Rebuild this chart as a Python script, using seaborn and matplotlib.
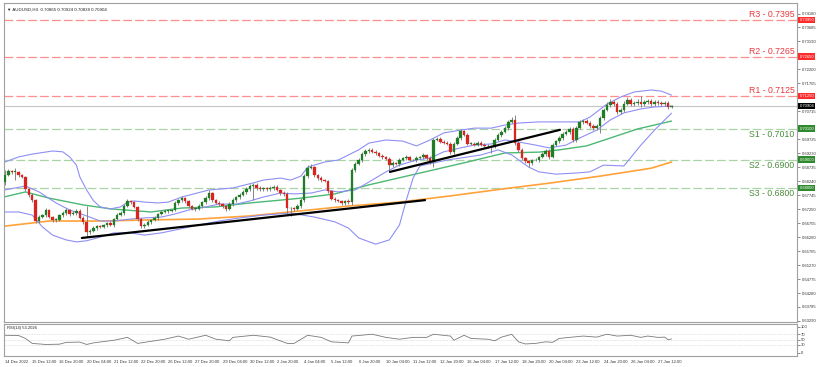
"""AUDUSD H4 chart with Bollinger bands, moving averages and S/R levels."""

import matplotlib
matplotlib.use("Agg")
import matplotlib.pyplot as plt
import numpy as np
import seaborn as sns

# --- candles (H4 closes, first open, wick lengths in pips) -------------------
first_open = 0.6821
closes = [
    0.6846, 0.6860, 0.6857, 0.6857, 0.6846, 0.6839, 0.6796, 0.6775, 0.6757, 0.6683,
    0.6697, 0.6704, 0.6722, 0.6697, 0.6687, 0.6687, 0.6704, 0.6711, 0.6722, 0.6708,
    0.6711, 0.6719, 0.6694, 0.6680, 0.6644, 0.6648, 0.6658, 0.6665, 0.6662, 0.6669,
    0.6676, 0.6669, 0.6690, 0.6704, 0.6711, 0.6736, 0.6754, 0.6750, 0.6733, 0.6690,
    0.6665, 0.6669, 0.6680, 0.6687, 0.6694, 0.6708, 0.6715, 0.6719, 0.6719, 0.6722,
    0.6747, 0.6757, 0.6764, 0.6754, 0.6736, 0.6726, 0.6726, 0.6736, 0.6750, 0.6764,
    0.6782, 0.6757, 0.6747, 0.6743, 0.6736, 0.6726, 0.6743, 0.6757, 0.6768, 0.6775,
    0.6786, 0.6796, 0.6807, 0.6811, 0.6800, 0.6796, 0.6800, 0.6796, 0.6800, 0.6804,
    0.6793, 0.6782, 0.6779, 0.6729, 0.6729, 0.6726, 0.6736, 0.6757, 0.6843, 0.6871,
    0.6874, 0.6846, 0.6835, 0.6828, 0.6825, 0.6789, 0.6761, 0.6757, 0.6754, 0.6747,
    0.6754, 0.6750, 0.6864, 0.6885, 0.6899, 0.6920, 0.6931, 0.6935, 0.6928, 0.6924,
    0.6913, 0.6910, 0.6903, 0.6881, 0.6888, 0.6885, 0.6899, 0.6906, 0.6910, 0.6899,
    0.6899, 0.6906, 0.6910, 0.6917, 0.6906, 0.6892, 0.6970, 0.6974, 0.6964, 0.6960,
    0.6957, 0.6928, 0.6957, 0.6977, 0.7002, 0.6988, 0.6957, 0.6957, 0.6953, 0.6960,
    0.6953, 0.6949, 0.6949, 0.6946, 0.6970, 0.6988, 0.6998, 0.7013, 0.7034, 0.7041,
    0.6960, 0.6935, 0.6906, 0.6895, 0.6888, 0.6899, 0.6899, 0.6910, 0.6920, 0.6931,
    0.6910, 0.6953, 0.6966, 0.6977, 0.6991, 0.6998, 0.7009, 0.6970, 0.7013, 0.7034,
    0.7037, 0.7031, 0.7020, 0.7013, 0.7020, 0.7048, 0.7076, 0.7094, 0.7105, 0.7098,
    0.7069, 0.7076, 0.7098, 0.7112, 0.7098, 0.7101, 0.7105, 0.7098, 0.7105, 0.7108,
    0.7098, 0.7105, 0.7101, 0.7098, 0.7101, 0.70865, 0.70904,
]
upper_wick = [
    18, 6, 5, 14, 4, 5, 5, 4, 6, 5,
    6, 5, 7, 4, 5, 6, 5, 6, 7, 5,
    6, 8, 5, 5, 55, 5, 6, 5, 4, 5,
    5, 6, 5, 6, 7, 6, 8, 5, 5, 4,
    5, 6, 5, 4, 6, 5, 6, 5, 6, 5,
    7, 5, 8, 5, 4, 5, 5, 6, 5, 7,
    10, 5, 5, 6, 4, 5, 6, 6, 5, 6,
    7, 6, 8, 5, 5, 6, 5, 5, 6, 5,
    5, 5, 6, 6, 5, 5, 6, 8, 8, 10,
    10, 5, 5, 6, 5, 5, 5, 6, 5, 5,
    5, 6, 5, 6, 7, 6, 8, 6, 5, 6,
    5, 6, 5, 5, 6, 5, 6, 5, 6, 5,
    5, 6, 5, 6, 5, 6, 6, 7, 5, 5,
    6, 5, 6, 8, 7, 5, 5, 6, 5, 6,
    5, 5, 6, 5, 6, 7, 6, 8, 8, 10,
    18, 5, 5, 4, 5, 5, 6, 5, 6, 6,
    6, 6, 5, 6, 6, 7, 6, 6, 7, 7,
    6, 6, 5, 5, 6, 8, 8, 10, 10, 8,
    8, 6, 10, 10, 8, 8, 9, 20, 8, 8,
    8, 7, 8, 6, 7, 6, 2,
]
lower_wick = [
    10, 5, 6, 28, 6, 5, 5, 6, 5, 8,
    6, 5, 6, 5, 7, 6, 5, 6, 5, 6,
    5, 6, 5, 6, 18, 6, 5, 6, 5, 5,
    6, 5, 6, 5, 5, 6, 5, 6, 5, 7,
    8, 6, 5, 6, 5, 6, 5, 5, 6, 5,
    5, 6, 5, 7, 6, 5, 6, 5, 6, 5,
    5, 6, 5, 6, 7, 6, 5, 6, 5, 6,
    5, 6, 5, 50, 6, 5, 6, 5, 6, 6,
    5, 6, 6, 25, 30, 6, 5, 6, 8, 6,
    5, 6, 5, 6, 5, 6, 5, 6, 5, 6,
    6, 8, 10, 6, 5, 6, 5, 6, 5, 6,
    5, 6, 5, 25, 6, 5, 6, 5, 6, 5,
    5, 6, 5, 6, 6, 8, 18, 5, 6, 5,
    5, 8, 6, 5, 6, 5, 6, 5, 6, 5,
    6, 5, 6, 22, 6, 5, 6, 5, 6, 5,
    6, 6, 8, 6, 14, 6, 5, 6, 5, 6,
    6, 5, 6, 5, 6, 5, 6, 8, 6, 5,
    6, 5, 6, 6, 8, 25, 6, 5, 6, 8,
    6, 8, 6, 5, 8, 6, 8, 10, 6, 8,
    8, 8, 6, 8, 6, 8, 3,
]

# --- indicator lines, read at selected bars ---------------------------------
bb_upper_idx = [0, 4, 8, 14, 17, 19, 21, 22, 24, 26, 28, 31, 34, 36, 38, 41, 45, 48,
                52, 60, 67, 73, 76, 81, 84, 87, 89, 94, 98, 101, 104, 107, 112, 117,
                121, 125, 129, 134, 138, 143, 147, 151, 157, 163, 169, 172, 177, 181,
                185, 190, 193, 196]
bb_upper = [0.6892, 0.6910, 0.6920, 0.6931, 0.6928, 0.6910, 0.6881, 0.6839, 0.6793,
            0.6755, 0.6733, 0.6726, 0.6733, 0.6750, 0.6754, 0.6750, 0.6747, 0.6750,
            0.6768, 0.6793, 0.6800, 0.6818, 0.6828, 0.6835, 0.6828, 0.6842, 0.6874,
            0.6892, 0.6899, 0.6917, 0.6935, 0.6959, 0.6970, 0.6966, 0.6949, 0.6970,
            0.6995, 0.7005, 0.7012, 0.7012, 0.7023, 0.7030, 0.7034, 0.7034, 0.7034,
            0.7051, 0.7097, 0.7122, 0.7140, 0.7147, 0.7143, 0.7129]

bb_mid_idx = [0, 6, 10, 15, 19, 24, 28, 32, 37, 41, 46, 50, 54, 59, 63, 68, 72, 76,
              81, 85, 90, 94, 98, 103, 107, 112, 116, 121, 125, 129, 134, 138, 143,
              147, 151, 156, 160, 165, 169, 174, 178, 182, 187, 191, 196]
bb_mid = [0.6793, 0.6807, 0.6786, 0.6747, 0.6722, 0.6701, 0.6683, 0.6683, 0.6690,
          0.6694, 0.6697, 0.6708, 0.6722, 0.6733, 0.6743, 0.6743, 0.6754, 0.6768,
          0.6782, 0.6779, 0.6782, 0.6793, 0.6786, 0.6793, 0.6821, 0.6857, 0.6881,
          0.6899, 0.6906, 0.6928, 0.6942, 0.6952, 0.6956, 0.6970, 0.6963, 0.6952,
          0.6942, 0.6952, 0.6977, 0.7005, 0.7041, 0.7066, 0.7080, 0.7087, 0.7090]

bb_lower_idx = [0, 4, 8, 11, 14, 18, 21, 24, 28, 32, 37, 41, 46, 50, 57, 63, 69, 76,
                84, 91, 97, 101, 104, 109, 113, 116, 118, 120, 122, 130, 140, 145,
                149, 154, 157, 162, 168, 172, 176, 182, 187, 191, 196]
bb_lower = [0.6715, 0.6715, 0.6704, 0.6662, 0.6633, 0.6616, 0.6609, 0.6613, 0.6626,
            0.6641, 0.6641, 0.6633, 0.6641, 0.6651, 0.6669, 0.6683, 0.6694, 0.6704,
            0.6711, 0.6697, 0.6680, 0.6658, 0.6623, 0.6601, 0.6616, 0.6669, 0.6757,
            0.6835, 0.6878, 0.6899, 0.6917, 0.6935, 0.6917, 0.6874, 0.6857, 0.6849,
            0.6853, 0.6857, 0.6881, 0.6878, 0.6952, 0.7005, 0.7065]

ma_green_idx = [0, 6, 13, 23, 31, 43, 52, 62, 72, 81, 87, 97, 107, 117, 126, 136, 147,
                157, 163, 171, 178, 186, 196]
ma_green = [0.6769, 0.6786, 0.6764, 0.6740, 0.6726, 0.6715, 0.6729, 0.6733, 0.6747,
            0.6757, 0.6764, 0.6779, 0.6811, 0.6839, 0.6864, 0.6892, 0.6924, 0.6927,
            0.6935, 0.6949, 0.6977, 0.7009, 0.7037]

ma_orange_idx = [0, 13, 28, 43, 57, 72, 87, 101, 116, 131, 146, 160, 175, 190, 196]
ma_orange = [0.6665, 0.6683, 0.6683, 0.6687, 0.6690, 0.6701, 0.6719, 0.6736, 0.6750,
             0.6772, 0.6796, 0.6817, 0.6842, 0.6870, 0.6892]

trend_lower_idx = [22.6, 123.5]
trend_lower = [0.6623, 0.6757]
trend_upper_idx = [113.2, 163.2]
trend_upper = [0.6857, 0.7006]

rsi_idx = [0, 4, 6, 8, 12, 16, 18, 22, 24, 26, 32, 36, 39, 44, 47, 51, 54, 59, 62, 66,
           67, 73, 78, 83, 85, 89, 93, 96, 101, 102, 108, 112, 116, 120, 124, 126, 131,
           132, 135, 137, 142, 144, 146, 148, 149, 151, 153, 156, 159, 161, 163, 166,
           170, 174, 177, 180, 184, 187, 189, 192, 194, 195, 196]
rsi_vals = [67, 66, 55, 36, 32, 33, 40, 41, 32, 38, 48, 59, 36, 46, 52, 64, 52, 67, 52,
            46, 59, 67, 60, 36, 36, 67, 59, 42, 38, 64, 71, 59, 52, 59, 59, 71, 64, 48,
            67, 55, 52, 46, 60, 67, 71, 42, 34, 36, 42, 40, 55, 59, 64, 60, 71, 64, 67,
            59, 64, 59, 60, 50, 53]

# --- levels and labels -------------------------------------------------------
resistance_names = ["R1", "R2", "R3"]
resistance_levels = [0.7125, 0.7265, 0.7395]
support_names = ["S1", "S2", "S3"]
support_levels = [0.7010, 0.6900, 0.6800]
last_price = 0.70904

# scale labels hidden behind the level boxes are left out, as on the terminal
price_ticks = [0.63290, 0.63785, 0.64280, 0.64775, 0.65270, 0.65765, 0.66260, 0.66755,
               0.67250, 0.67745, 0.68240, 0.68735, 0.69230, 0.69725, 0.70715,
               0.71705, 0.72200, 0.73190, 0.73685, 0.74180]
date_ticks = list(range(0, 193, 8))
date_labels = ["14 Dec 2022", "15 Dec 12:00", "16 Dec 20:00", "20 Dec 04:00",
               "21 Dec 12:00", "22 Dec 20:00", "26 Dec 12:00", "27 Dec 20:00",
               "29 Dec 04:00", "30 Dec 12:00", "2 Jan 20:00", "4 Jan 04:00",
               "5 Jan 12:00", "6 Jan 20:00", "10 Jan 04:00", "11 Jan 12:00",
               "12 Jan 20:00", "16 Jan 04:00", "17 Jan 12:00", "18 Jan 20:00",
               "20 Jan 04:00", "23 Jan 12:00", "24 Jan 20:00", "26 Jan 04:00",
               "27 Jan 12:00"]
rsi_ticks = [0, 30, 50, 70, 100]

BULL = "#1f7d26"
BEAR = "#d9231f"
WICK = "#858585"
BAND = "#8f8ff5"
FRAME = "#a0a0a0"


def main() -> None:
    sns.set_style("white")
    plt.rcParams["font.family"] = ["Liberation Sans", "DejaVu Sans"]

    fig = plt.figure(figsize=(8.31, 3.67), dpi=100)
    ax = fig.add_axes([4 / 831, 1 - 322 / 367, 793 / 831, 319 / 367])
    rsi_ax = fig.add_axes([4 / 831, 1 - 356 / 367, 793 / 831, 32 / 367])

    c = np.array(closes)
    o = np.concatenate([[first_open], c[:-1]])
    hi = np.maximum(o, c) + np.array(upper_wick) * 1e-4
    lo = np.minimum(o, c) - np.array(lower_wick) * 1e-4
    x = np.arange(len(c))
    colors = np.where(c >= o, BULL, BEAR)

    # levels
    for lvl in resistance_levels:
        ax.axhline(lvl, color="#ff8f8f", lw=0.9, ls=(0, (7, 2.5)), zorder=1)
    for lvl in support_levels:
        ax.axhline(lvl, color="#a9d4a6", lw=0.9, ls=(0, (7, 2.5)), zorder=1)
    ax.axhline(last_price, color="#c4c4c4", lw=0.8, zorder=1)

    # moving averages and bands
    sns.lineplot(x=ma_orange_idx, y=ma_orange, ax=ax, color="#ffa23a", lw=1.2, zorder=2)
    sns.lineplot(x=ma_green_idx, y=ma_green, ax=ax, color="#4cb874", lw=1.0, zorder=2)
    for idx, vals in [(bb_upper_idx, bb_upper), (bb_mid_idx, bb_mid), (bb_lower_idx, bb_lower)]:
        sns.lineplot(x=idx, y=vals, ax=ax, color=BAND, lw=0.8, zorder=2)

    # candles
    ax.vlines(x, lo, hi, color=WICK, lw=0.7, zorder=3)
    body = np.maximum(np.abs(c - o), 0.00014)
    ax.bar(x, body, bottom=np.minimum(o, c), width=0.72, color=colors,
           edgecolor=colors, lw=0.2, zorder=4)

    # trend lines
    sns.lineplot(x=trend_lower_idx, y=trend_lower, ax=ax, color="black", lw=1.6, zorder=5)
    sns.lineplot(x=trend_upper_idx, y=trend_upper, ax=ax, color="black", lw=1.6, zorder=5)

    ax.set_xlim(-0.3, 232.9)
    ax.set_ylim(0.63253, 0.74552)

    # level labels
    ytr = ax.get_yaxis_transform()
    for name, lvl in zip(resistance_names, resistance_levels):
        ax.text(0.997, lvl + 0.0004, f"{name} - {lvl:.4f}", transform=ytr, ha="right",
                va="bottom", fontsize=6.3, color="#e8383d")
        ax.text(1.003, lvl, f"{lvl:.5f}", transform=ytr, ha="left", va="center",
                fontsize=3.0, color="white", zorder=6, clip_on=False,
                bbox=dict(boxstyle="square,pad=0.3", fc="#ff2a2a", ec="none"))
    for name, lvl in zip(support_names, support_levels):
        ax.text(0.997, lvl - 0.0005, f"{name} - {lvl:.4f}", transform=ytr, ha="right",
                va="top", fontsize=6.3, color="#4b8b3b")
        ax.text(1.003, lvl, f"{lvl:.5f}", transform=ytr, ha="left", va="center",
                fontsize=3.0, color="white", zorder=6, clip_on=False,
                bbox=dict(boxstyle="square,pad=0.3", fc="#2f8a2f", ec="none"))
    ax.text(1.003, last_price, f"{last_price:.5f}", transform=ytr, ha="left", va="center",
            fontsize=3.0, color="white", zorder=6, clip_on=False,
            bbox=dict(boxstyle="square,pad=0.3", fc="black", ec="none"))

    ax.set_xticks([])
    ax.yaxis.tick_right()
    ax.set_yticks(price_ticks)
    ax.set_yticklabels([f"{t:.5f}" for t in price_ticks])
    ax.tick_params(axis="y", direction="out", length=2, width=0.4, labelsize=3.0,
                   pad=1.5, colors="#333333")
    ax.set_xlabel("")
    ax.set_ylabel("")
    for s in ax.spines.values():
        s.set_color(FRAME)
        s.set_linewidth(0.8)
    ax.text(0.004, 0.985, "\u25bc AUDUSD,H4  0.70865 0.70924 0.70838 0.70904",
            transform=ax.transAxes, fontsize=3.2, va="top", ha="left", color="#222222")

    # RSI panel
    for lvl in (30, 50, 70):
        rsi_ax.axhline(lvl, color="#c8c8c8", lw=0.5, ls=(0, (1, 1.5)))
    sns.lineplot(x=rsi_idx, y=rsi_vals, ax=rsi_ax, color="#7a7a7a", lw=0.6)
    rsi_ax.set_xlim(-0.3, 232.9)
    rsi_ax.set_ylim(-12, 110)
    rsi_ax.yaxis.tick_right()
    rsi_ax.set_yticks(rsi_ticks)
    rsi_ax.set_yticklabels([str(t) for t in rsi_ticks])
    rsi_ax.set_xticks(date_ticks)
    rsi_ax.set_xticklabels(date_labels, ha="left")
    rsi_ax.tick_params(axis="both", direction="out", length=2, width=0.4, labelsize=3.0,
                       pad=1.0, colors="#333333")
    rsi_ax.set_xlabel("")
    rsi_ax.set_ylabel("")
    for s in rsi_ax.spines.values():
        s.set_color(FRAME)
        s.set_linewidth(0.8)
    rsi_ax.text(0.004, 0.93, "RSI(14) 53.2026", transform=rsi_ax.transAxes,
                fontsize=3.0, va="top", ha="left", color="#222222")

    fig.savefig("out.png", dpi=100)
    plt.close(fig)


if __name__ == "__main__":
    main()
